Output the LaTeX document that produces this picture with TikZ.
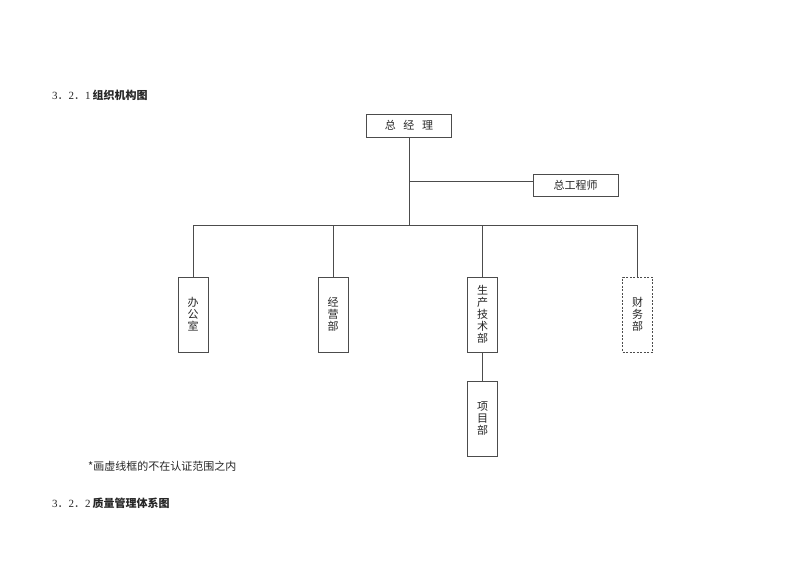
\documentclass[tikz,border=0pt]{standalone}
\usepackage{fontspec}
\setmainfont{Noto Sans CJK SC}
\newfontfamily\digitfont{Liberation Serif}
\begin{document}
\begin{tikzpicture}[x=1pt,y=-1pt,
  every node/.style={font=\fontsize{11}{12}\selectfont, text=black!85},
  conn/.style={draw=black!70, line width=0.9pt},
  hbox/.style={draw=black!70, line width=0.9pt, minimum width=85pt, minimum height=22pt, inner sep=0pt},
  vbox/.style={draw=black!70, line width=0.9pt, minimum width=30pt, minimum height=75pt, inner sep=0pt, align=center},
  dbox/.style={vbox, dashed, dash pattern=on 2pt off 1.5pt},
  plain/.style={anchor=west, inner sep=0pt}]
\useasboundingbox (0,0) rectangle (800,566);
\fill[white] (0,0) rectangle (800,566);

\node[plain] (t1) at (52,95) {{\digitfont 3}．{\digitfont 2}．{\digitfont 1}\,\textbf{组织机构图}};
\node[plain] (note) at (88,466) {*画虚线框的不在认证范围之内};
\node[plain] (t2) at (52,503) {{\digitfont 3}．{\digitfont 2}．{\digitfont 2}\,\textbf{质量管理体系图}};

\node[hbox, minimum height=23pt] (gm) at (409,125.5) {总\hspace{0.7em}经\hspace{0.7em}理};
\node[hbox] (ce) at (575.5,185) {总工程师};

\node[vbox] (bgs) at (193,314.5) {办\\公\\室};
\node[vbox] (jyb) at (333,314.5) {经\\营\\部};
\node[vbox] (scb) at (482.5,314.5) {生\\产\\技\\术\\部};
\node[dbox] (cwb) at (637.5,314.5) {财\\务\\部};
\node[vbox] (xmb) at (482.5,418.5) {项\\目\\部};

\coordinate (j1) at (409,181);
\coordinate (j2) at (409,225);
\coordinate (bl) at (193,225);
\coordinate (br) at (637.5,225);

\draw[conn] (gm.south) -- (j2);
\draw[conn] (j1) -- (j1 -| ce.west);
\draw[conn] (bl) -- (br);
\draw[conn] (bgs.north) -- (bgs.north |- bl);
\draw[conn] (jyb.north) -- (jyb.north |- bl);
\draw[conn] (scb.north) -- (scb.north |- bl);
\draw[conn] (cwb.north) -- (cwb.north |- bl);
\draw[conn] (scb.south) -- (xmb.north);
\end{tikzpicture}
\end{document}
